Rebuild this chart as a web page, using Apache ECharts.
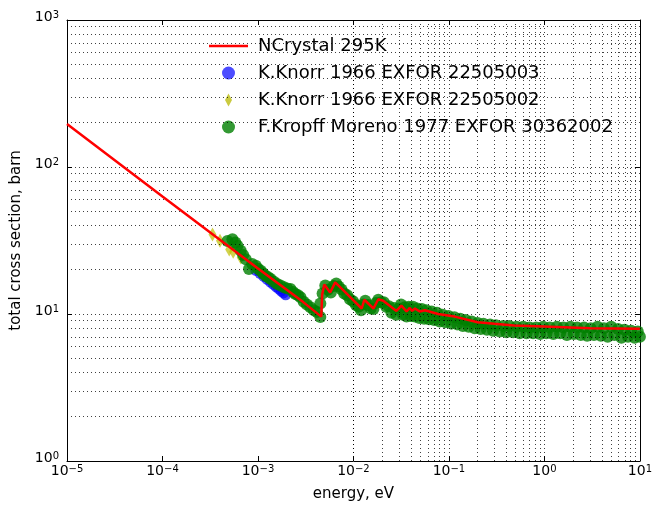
<!DOCTYPE html>
<html>
<head>
<meta charset="utf-8">
<style>
  html, body { margin: 0; padding: 0; background: #fff; }
  #chart-container { width: 655px; height: 507px; }
</style>
</head>
<body>
<div id="chart-container"></div>
<script src="https://fastly.jsdelivr.net/npm/echarts@6/dist/echarts.min.js"></script>
<script type="text/javascript">
// NCrystal curve (energy eV, cross section barn)
var ncEnergy = [1e-5, 1e-4, 1e-3, 2e-3, 3e-3, 4.6e-3, 4.7e-3, 4.95e-3, 5.7e-3, 6.44e-3, 8e-3, 1e-2, 1.22e-2,
    1.3e-2, 1.62e-2, 1.82e-2, 2.05e-2, 2.82e-2, 3.18e-2, 3.6e-2, 3.89e-2, 4.12e-2, 4.4e-2, 4.95e-2, 5.6e-2,
    7.7e-2, 0.115, 0.2, 0.3, 0.48, 1.0, 3.0, 10];
var ncXs = [196, 63, 20.4, 14.6, 12.0, 9.6, 13.5, 15.9, 14.0, 16.4, 14.3, 12.4, 10.9,
    12.5, 10.9, 12.6, 12.3, 10.5, 11.4, 10.4, 11.0, 10.5, 10.9, 10.4, 10.6,
    10.0, 9.6, 8.8, 8.57, 8.35, 8.22, 8.0, 7.93];

// K.Knorr 1966 EXFOR 22505003
var knorr3Energy = [9.5e-4, 1.05e-3, 1.15e-3, 1.25e-3, 1.35e-3, 1.45e-3, 1.55e-3, 1.65e-3, 1.75e-3, 1.85e-3, 1.95e-3];
var knorr3Xs = [19.8, 18.9, 18.0, 17.2, 16.5, 15.9, 15.3, 14.8, 14.3, 13.9, 13.5];

// K.Knorr 1966 EXFOR 22505002
var knorr2Energy = [3.34e-4, 4.0e-4, 5.0e-4, 5.5e-4, 6.6e-4];
var knorr2Xs = [34.8, 31.5, 27.5, 26.5, 24.2];

// F.Kropff Moreno 1977 EXFOR 30362002
var kropffEnergy = [4.79e-4, 5.4e-4, 5.8e-4, 6.1e-4, 6.6e-4, 7.0e-4, 7.45e-4, 8.05e-4, 8.7e-4, 9.5e-4,
    1.0e-3, 1.07e-3, 1.13e-3, 1.2e-3, 1.28e-3, 1.36e-3, 1.47e-3, 1.59e-3, 1.72e-3, 1.87e-3,
    2.02e-3, 2.19e-3, 2.33e-3, 2.47e-3, 2.63e-3, 2.79e-3, 3.01e-3, 3.25e-3, 3.54e-3, 3.85e-3,
    4.15e-3, 4.5e-3, 4.5e-3, 4.75e-3, 5.07e-3, 5.4e-3, 5.8e-3, 6.2e-3, 6.6e-3, 7.0e-3,
    7.5e-3, 8.0e-3, 8.6e-3, 9.2e-3, 9.9e-3, 1.06e-2, 1.13e-2, 1.2e-2, 1.27e-2, 1.33e-2,
    1.42e-2, 1.52e-2, 1.62e-2, 1.72e-2, 1.82e-2, 1.95e-2, 2.08e-2, 2.2e-2, 2.35e-2, 2.5e-2,
    2.65e-2, 2.8e-2, 3.0e-2, 3.15e-2, 3.3e-2, 3.45e-2, 3.6e-2, 3.8e-2, 4.0e-2, 4.2e-2,
    4.4e-2, 4.65e-2, 4.9e-2, 5.2e-2, 5.5e-2, 5.8e-2, 6.2e-2, 6.6e-2, 7.0e-2, 7.5e-2,
    8.0e-2, 8.6e-2, 9.2e-2, 0.099, 0.106, 0.114, 0.122, 0.131, 0.14, 0.15,
    0.161, 0.173, 0.186, 0.2, 0.215, 0.23, 0.25, 0.27, 0.29, 0.31,
    0.34, 0.37, 0.4, 0.43, 0.47, 0.51, 0.55, 0.6, 0.65, 0.7,
    0.76, 0.82, 0.9, 0.97, 1.05, 1.14, 1.24, 1.35, 1.46, 1.58,
    1.72, 1.87, 2.03, 2.2, 2.4, 2.6, 2.8, 3.05, 3.3, 3.6,
    3.9, 4.2, 4.6, 5.0, 5.4, 5.9, 6.4, 6.9, 7.5, 8.1,
    8.8, 9.5, 10];
var kropffXs = [31.4, 32.2, 30.6, 29.1, 26.9, 25.2, 23.6, 20.2, 21.9, 21.3,
    20.3, 19.7, 18.9, 18.2, 17.8, 17.3, 16.6, 16.0, 15.6, 15.2,
    14.9, 14.8, 14.1, 13.7, 13.4, 13.0, 12.1, 11.6, 11.1, 10.6,
    10.3, 9.55, 11.8, 13.8, 15.6, 14.6, 14.0, 15.5, 16.1, 15.4,
    14.7, 13.8, 13.4, 12.6, 12.2, 11.5, 11.2, 10.6, 11.6, 12.3,
    11.5, 10.9, 10.8, 11.9, 12.5, 12.0, 12.0, 11.2, 11.3, 10.2,
    11.0, 9.9, 10.9, 11.6, 9.9, 11.1, 9.6, 11.2, 9.7, 11.2,
    9.6, 10.9, 9.4, 10.8, 9.3, 10.6, 9.2, 10.4, 9.1, 10.2,
    8.9, 9.9, 8.8, 9.7, 8.6, 9.5, 8.5, 9.3, 8.3, 9.1,
    8.2, 8.9, 8.0, 8.7, 7.9, 8.6, 7.8, 8.5, 7.7, 8.4,
    7.6, 8.3, 7.5, 8.3, 7.5, 8.2, 7.4, 8.2, 7.4, 8.1,
    7.4, 8.1, 7.3, 8.2, 7.4, 8.1, 7.3, 8.2, 7.4, 8.1,
    7.2, 8.2, 7.3, 8.1, 7.2, 8.1, 7.1, 8.0, 7.2, 8.2,
    7.1, 8.0, 7.0, 8.2, 7.2, 7.9, 6.9, 7.8, 7.0, 7.7,
    6.9, 7.6, 7.0];

// tick exponents (decades) and gridline mantissas
var xTickExps = [-5, -4, -3, -2, -1, 0, 1];
var yTickExps = [0, 1, 2, 3];
var gridMantissas = [1, 2, 3, 4, 5, 6, 7, 8, 9];

var seriesNames = ['NCrystal 295K', 'K.Knorr 1966 EXFOR 22505003', 'K.Knorr 1966 EXFOR 22505002',
    'F.Kropff Moreno 1977 EXFOR 30362002'];

function zipPairs(xs, ys) {
    return xs.map(function (x, i) { return [x, ys[i]]; });
}

// dotted grid at every major and minor decade tick (matplotlib grid which='both')
var gridLines = [];
for (var i = 0; i < xTickExps.length; i++) {
    for (var j = 0; j < gridMantissas.length; j++) {
        if (xTickExps[i] == 1 && j > 0) break;
        gridLines.push({ xAxis: gridMantissas[j] * Math.pow(10, xTickExps[i]) });
    }
}
for (var i = 0; i < yTickExps.length; i++) {
    for (var j = 0; j < gridMantissas.length; j++) {
        if (yTickExps[i] == 3 && j > 0) break;
        gridLines.push({ yAxis: gridMantissas[j] * Math.pow(10, yTickExps[i]) });
    }
}

function powLabel(value) {
    var e = Math.round(Math.log10(value));
    return '{b|10}{s|' + String(e).replace('-', '\u2212') + '}';
}
var labelRich = {
    b: { fontSize: 14, fontFamily: 'DejaVu Sans', color: '#000', lineHeight: 14, padding: [6, 0, 0, 0], verticalAlign: 'bottom' },
    s: { fontSize: 10, fontFamily: 'DejaVu Sans', color: '#000', lineHeight: 10, verticalAlign: 'top' }
};

// legend icons
var lineIcon = 'path://M0,0H39V2.5H0Z';
var diamondIcon = 'path://M3.5,0L7,6.5L3.5,13L0,6.5Z';

var dom = document.getElementById('chart-container');
var myChart = echarts.init(dom, null, { renderer: 'canvas' });

var axisBase = {
    type: 'log',
    logBase: 10,
    axisLine: { onZero: false, lineStyle: { color: '#000', width: 1 } },
    axisTick: { inside: true, length: 5, lineStyle: { color: '#000' } },
    splitLine: { show: false }
};

var option = {
    animation: false,
    textStyle: { fontFamily: 'DejaVu Sans' },
    grid: { left: 67, right: 12, top: 20, bottom: 42, containLabel: false },
    legend: {
        data: [
            { name: seriesNames[0], icon: lineIcon },
            { name: seriesNames[1], icon: 'circle' },
            { name: seriesNames[2], icon: diamondIcon, itemStyle: { color: '#c4c42a', opacity: 0.9 } },
            { name: seriesNames[3], icon: 'circle' }
        ],
        orient: 'vertical',
        left: 204,
        top: 31,
        itemWidth: 39,
        itemHeight: 13,
        itemGap: 7,
        selectedMode: false,
        textStyle: { fontSize: 18, fontFamily: 'DejaVu Sans', color: '#000', lineHeight: 20, padding: [0, 0, 0, 5] }
    },
    xAxis: [
        Object.assign({}, axisBase, {
            position: 'bottom', min: 1e-5, max: 10, splitNumber: 6,
            name: 'energy, eV', nameLocation: 'middle', nameGap: 26,
            nameTextStyle: { fontSize: 15, color: '#000', fontFamily: 'DejaVu Sans' },
            axisLabel: { formatter: powLabel, rich: labelRich, margin: 3 }
        }),
        Object.assign({}, axisBase, {
            position: 'top', min: 1e-5, max: 10, splitNumber: 6,
            axisLabel: { show: false }
        })
    ],
    yAxis: [
        Object.assign({}, axisBase, {
            position: 'left', min: 1, max: 1000, splitNumber: 3,
            name: 'total cross section, barn', nameLocation: 'middle', nameGap: 43,
            nameTextStyle: { fontSize: 15, color: '#000', fontFamily: 'DejaVu Sans' },
            axisLabel: { formatter: powLabel, rich: labelRich, margin: 8, padding: [0, 0, 6, 0] }
        }),
        Object.assign({}, axisBase, {
            position: 'right', min: 1, max: 1000, splitNumber: 3,
            axisLabel: { show: false }
        })
    ],
    series: [
        {
            name: 'grid',
            type: 'line',
            data: [],
            z: 1,
            silent: true,
            markLine: {
                silent: true,
                symbol: ['none', 'none'],
                label: { show: false },
                animation: false,
                lineStyle: { color: '#000', width: 1, type: [1, 3], opacity: 0.75 },
                emphasis: { disabled: true },
                data: gridLines
            }
        },
        {
            name: seriesNames[1],
            type: 'scatter',
            z: 2,
            symbol: 'circle',
            symbolSize: 11,
            itemStyle: { color: '#0000ff', opacity: 0.7 },
            data: zipPairs(knorr3Energy, knorr3Xs)
        },
        {
            name: seriesNames[2],
            type: 'scatter',
            z: 3,
            symbol: 'diamond',
            symbolSize: [8, 14],
            legendIcon: diamondIcon,
            itemStyle: { color: '#bfbf00', opacity: 0.7 },
            data: zipPairs(knorr2Energy, knorr2Xs)
        },
        {
            name: seriesNames[3],
            type: 'scatter',
            z: 4,
            symbol: 'circle',
            symbolSize: 12,
            itemStyle: { color: '#008000', opacity: 0.8 },
            data: zipPairs(kropffEnergy, kropffXs)
        },
        {
            name: seriesNames[0],
            type: 'line',
            z: 5,
            symbol: 'none',
            lineStyle: { color: '#ff0000', width: 2.5 },
            itemStyle: { color: '#ff0000' },
            data: zipPairs(ncEnergy, ncXs)
        }
    ]
};

myChart.setOption(option);
window.addEventListener('resize', myChart.resize);
</script>
</body>
</html>
